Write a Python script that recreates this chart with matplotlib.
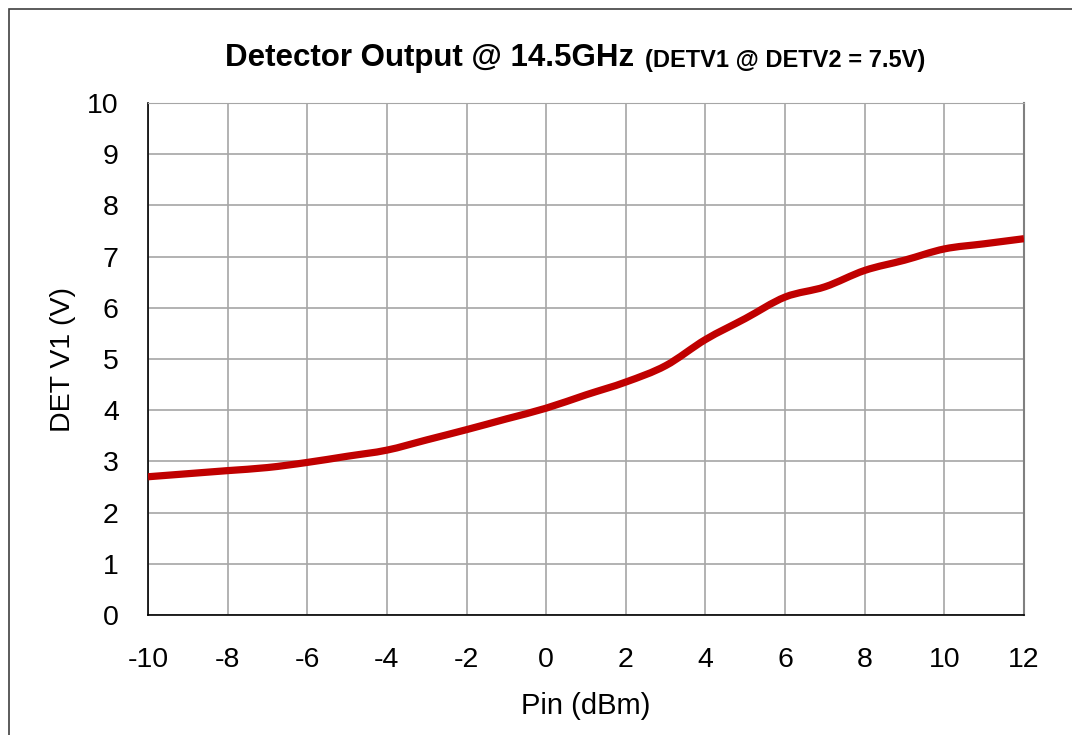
import matplotlib
matplotlib.use("Agg")
import matplotlib.pyplot as plt
from matplotlib.patches import Rectangle, PathPatch
from matplotlib.path import Path

pin_dbm = [-10, -9, -8, -7, -6, -5, -4, -3, -2, -1, 0, 1, 2, 3, 4, 5, 6, 7, 8, 9, 10, 11, 12]
detv1 = [2.70, 2.76, 2.82, 2.88, 2.98, 3.10, 3.22, 3.42, 3.62, 3.83, 4.04, 4.30, 4.55, 4.87,
         5.38, 5.79, 6.21, 6.41, 6.73, 6.93, 7.15, 7.25, 7.35]
x_ticks = list(range(-10, 13, 2))
y_ticks = list(range(0, 11))

plt.rcParams['font.family'] = ['Liberation Sans', 'DejaVu Sans']

fig = plt.figure(figsize=(10.72, 7.35), dpi=100)
W, H = 1072, 735
ax = fig.add_axes([148 / W, 1 - 615 / H, (1024 - 148) / W, (615 - 103) / H])

# smoothed line (Excel-style Catmull-Rom Bezier through the data points)
pts = list(zip(pin_dbm, detv1))
verts = [pts[0]]
codes = [Path.MOVETO]
n = len(pts)
for i in range(n - 1):
    p0 = pts[i - 1] if i > 0 else pts[i]
    p1 = pts[i]
    p2 = pts[i + 1]
    p3 = pts[i + 2] if i + 2 < n else pts[i + 1]
    c1 = (p1[0] + (p2[0] - p0[0]) / 6, p1[1] + (p2[1] - p0[1]) / 6)
    c2 = (p2[0] - (p3[0] - p1[0]) / 6, p2[1] - (p3[1] - p1[1]) / 6)
    verts += [c1, c2, p2]
    codes += [Path.CURVE4] * 3
ax.add_patch(PathPatch(Path(verts, codes), facecolor='none', edgecolor='#C00000', lw=5.2,
                       joinstyle='round', capstyle='butt', zorder=3))

ax.set_xlim(-10, 12)
ax.set_ylim(0, 10)
ax.set_xticks(x_ticks)
ax.set_yticks(y_ticks)
ax.set_xticklabels([str(v) for v in x_ticks])
ax.set_yticklabels([str(v) for v in y_ticks])
ax.tick_params(axis='both', length=0, labelsize=20.5)
ax.tick_params(axis='x', pad=23)
ax.tick_params(axis='y', pad=21)
ax.grid(True, color='#a6a6a6', lw=1.2)
ax.set_axisbelow(True)
for s in ['left', 'bottom']:
    ax.spines[s].set_color('black')
    ax.spines[s].set_linewidth(1.2)
ax.spines['top'].set_color('#a6a6a6')
ax.spines['right'].set_color('#808080')
ax.spines['right'].set_linewidth(1.5)

ax.set_xlabel('Pin (dBm)', fontsize=21, labelpad=14)
ax.set_ylabel('DET V1 (V)', fontsize=20.5, labelpad=8)

fig.text(634 / W, 1 - 58 / H, 'Detector Output @ 14.5GHz', fontsize=22.5, fontweight='bold',
         ha='right', va='center')
fig.text(645 / W, 1 - 61 / H, '(DETV1 @ DETV2 = 7.5V)', fontsize=17, fontweight='bold',
         ha='left', va='center')

fig.patches.append(Rectangle((8.5 / W, -0.1), 1.2, 1 - 9 / H + 0.1, transform=fig.transFigure,
                             fill=False, edgecolor='#404040', lw=1.2))

fig.savefig('out.png', dpi=100)
